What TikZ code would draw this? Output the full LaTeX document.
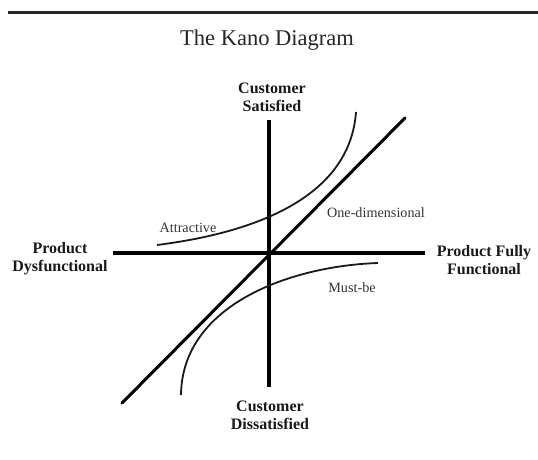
\documentclass[tikz,border=0pt]{standalone}
\usepackage{fontspec}
\setmainfont{Liberation Serif}
\begin{document}
\begin{tikzpicture}[x=1pt,y=-1pt,
  axis/.style={line width=4pt, black},
  diag/.style={line width=3pt, black},
  kcurve/.style={line width=1.8pt, black!90},
  axlabel/.style={font=\bfseries\fontsize{16}{18}\selectfont, align=center, inner sep=0pt, text=black!90},
  clabel/.style={font=\fontsize{14.2}{16}\selectfont, inner sep=0pt, text=black!80},
  titlestyle/.style={font=\fontsize{22.5}{26}\selectfont, inner sep=0pt, text=black!85}]
\useasboundingbox (0,0) rectangle (538,460);
% top rule
\coordinate (RL) at (8,13);
\coordinate (RR) at (538,13);
\draw[line width=3pt, black!85] (RL) -- (RR);
\node[titlestyle, anchor=base] (title) at (267,46) {The Kano Diagram};
% axes
\coordinate (O) at (269,253);
\coordinate (top) at (269,120);
\coordinate (bot) at (269,387);
\coordinate (left) at (113,253);
\coordinate (right) at (425,253);
\draw[axis] (top) -- (bot);
\draw[axis] (left) -- (right);
% one-dimensional line
\coordinate (dl) at (122,403);
\coordinate (du) at (405,118);
\draw[diag, line cap=round] (dl) -- (du);
% attractive curve
\coordinate (a0) at (157,245);
\coordinate (a3) at (356,112);
\draw[kcurve] (a0) .. controls (260,232) and (350,195) .. (a3);
% must-be curve
\coordinate (m0) at (378,263);
\coordinate (m3) at (181,395);
\draw[kcurve] (m0) .. controls (290,266) and (182,305) .. (m3);
% labels
\node[axlabel] (sat) at (272,97) {Customer\\Satisfied};
\node[axlabel] (dis) at (270,415) {Customer\\Dissatisfied};
\node[axlabel] (dys) at (60,259) {Product\\Dysfunctional};
\node[axlabel] (ful) at (484,260) {Product Fully\\Functional};
\node[clabel] (attr) at (188,228) {Attractive};
\node[clabel] (one) at (376,213) {One-dimensional};
\node[clabel] (must) at (352,288) {Must-be};
\end{tikzpicture}
\end{document}
